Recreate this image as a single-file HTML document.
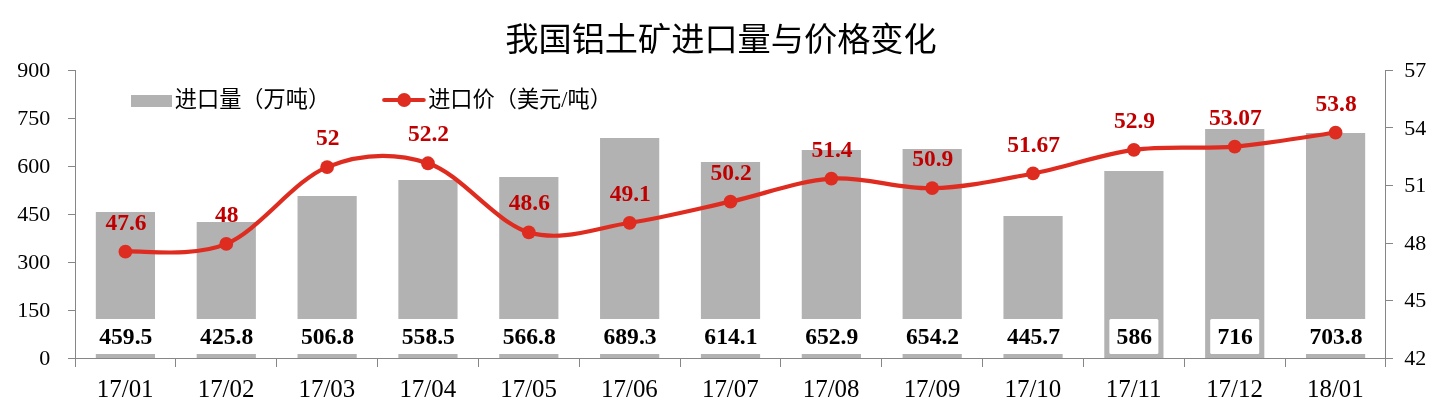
<!DOCTYPE html>
<html lang="zh"><head><meta charset="utf-8"><title>我国铝土矿进口量与价格变化</title>
<style>html,body{margin:0;padding:0;background:#fff}svg{display:block}</style></head>
<body>
<svg width="1443" height="400" viewBox="0 0 1443 400">
<rect width="1443" height="400" fill="#fff"/>
<text x="721" y="51" text-anchor="middle" style="font-family:'Liberation Sans','Noto Sans CJK SC',sans-serif;font-size:33.2px;fill:#000">我国铝土矿进口量与价格变化</text>
<rect x="95.82" y="212" width="59.2" height="147" fill="#b2b2b2"/>
<rect x="196.67" y="222" width="59.2" height="137" fill="#b2b2b2"/>
<rect x="297.52" y="196" width="59.2" height="163" fill="#b2b2b2"/>
<rect x="398.36" y="180" width="59.2" height="179" fill="#b2b2b2"/>
<rect x="499.21" y="177" width="59.2" height="182" fill="#b2b2b2"/>
<rect x="600.05" y="138" width="59.2" height="221" fill="#b2b2b2"/>
<rect x="700.90" y="162" width="59.2" height="197" fill="#b2b2b2"/>
<rect x="801.75" y="150" width="59.2" height="209" fill="#b2b2b2"/>
<rect x="902.59" y="149" width="59.2" height="210" fill="#b2b2b2"/>
<rect x="1003.44" y="216" width="59.2" height="143" fill="#b2b2b2"/>
<rect x="1104.28" y="171" width="59.2" height="188" fill="#b2b2b2"/>
<rect x="1205.13" y="129" width="59.2" height="230" fill="#b2b2b2"/>
<rect x="1305.98" y="133" width="59.2" height="226" fill="#b2b2b2"/>
<g stroke="#868686" stroke-width="1" fill="none">
<path d="M75.5 70V359M1385.5 70V359M75 358.5H1386"/>
<path d="M68 70.5H76M68 118.5H76M68 166.5H76M68 214.5H76M68 262.5H76M68 310.5H76M68 358.5H76M1385 70.5H1393M1385 127.5H1393M1385 185.5H1393M1385 243.5H1393M1385 300.5H1393M1385 358.5H1393M75.5 358V367M175.5 358V367M276.5 358V367M377.5 358V367M478.5 358V367M579.5 358V367M680.5 358V367M780.5 358V367M881.5 358V367M982.5 358V367M1083.5 358V367M1184.5 358V367M1285.5 358V367M1385.5 358V367"/>
</g>
<g style="font-family:'Liberation Serif',serif;font-size:22px;fill:#000" text-anchor="end">
<text x="50.3" y="76.90">900</text>
<text x="50.3" y="124.90">750</text>
<text x="50.3" y="172.90">600</text>
<text x="50.3" y="220.90">450</text>
<text x="50.3" y="268.90">300</text>
<text x="50.3" y="316.90">150</text>
<text x="50.3" y="364.90">0</text>
</g>
<g style="font-family:'Liberation Serif',serif;font-size:22px;fill:#000">
<text x="1404.3" y="76.90">57</text>
<text x="1404.3" y="134.50">54</text>
<text x="1404.3" y="192.10">51</text>
<text x="1404.3" y="249.70">48</text>
<text x="1404.3" y="307.30">45</text>
<text x="1404.3" y="364.90">42</text>
</g>
<g style="font-family:'Liberation Serif',serif;font-size:24.9px;fill:#000" text-anchor="middle">
<text x="125.22" y="396.7">17/01</text>
<text x="226.07" y="396.7">17/02</text>
<text x="326.92" y="396.7">17/03</text>
<text x="427.76" y="396.7">17/04</text>
<text x="528.61" y="396.7">17/05</text>
<text x="629.45" y="396.7">17/06</text>
<text x="730.30" y="396.7">17/07</text>
<text x="831.15" y="396.7">17/08</text>
<text x="931.99" y="396.7">17/09</text>
<text x="1032.84" y="396.7">17/10</text>
<text x="1133.68" y="396.7">17/11</text>
<text x="1234.53" y="396.7">17/12</text>
<text x="1335.38" y="396.7">18/01</text>
</g>
<g style="font-family:'Liberation Serif',serif;font-size:23.6px;font-weight:bold;fill:#000" text-anchor="middle">
<rect x="92.07" y="319" width="66.70" height="35" rx="1.5" fill="#fff"/>
<text x="125.82" y="344.3">459.5</text>
<rect x="192.92" y="319" width="66.70" height="35" rx="1.5" fill="#fff"/>
<text x="226.67" y="344.3">425.8</text>
<rect x="293.77" y="319" width="66.70" height="35" rx="1.5" fill="#fff"/>
<text x="327.52" y="344.3">506.8</text>
<rect x="394.61" y="319" width="66.70" height="35" rx="1.5" fill="#fff"/>
<text x="428.36" y="344.3">558.5</text>
<rect x="495.46" y="319" width="66.70" height="35" rx="1.5" fill="#fff"/>
<text x="529.21" y="344.3">566.8</text>
<rect x="596.30" y="319" width="66.70" height="35" rx="1.5" fill="#fff"/>
<text x="630.05" y="344.3">689.3</text>
<rect x="697.15" y="319" width="66.70" height="35" rx="1.5" fill="#fff"/>
<text x="730.90" y="344.3">614.1</text>
<rect x="798.00" y="319" width="66.70" height="35" rx="1.5" fill="#fff"/>
<text x="831.75" y="344.3">652.9</text>
<rect x="898.84" y="319" width="66.70" height="35" rx="1.5" fill="#fff"/>
<text x="932.59" y="344.3">654.2</text>
<rect x="999.69" y="319" width="66.70" height="35" rx="1.5" fill="#fff"/>
<text x="1033.44" y="344.3">445.7</text>
<rect x="1109.38" y="319" width="49.00" height="35" rx="1.5" fill="#fff"/>
<text x="1134.28" y="344.3">586</text>
<rect x="1210.23" y="319" width="49.00" height="35" rx="1.5" fill="#fff"/>
<text x="1235.13" y="344.3">716</text>
<rect x="1302.23" y="319" width="66.70" height="35" rx="1.5" fill="#fff"/>
<text x="1335.98" y="344.3">703.8</text>
</g>
<path d="M125.42 251.58C142.23 250.30 192.65 257.98 226.27 243.90C259.88 229.82 293.50 180.54 327.12 167.10C360.73 153.66 394.35 152.38 427.96 163.26C461.58 174.14 495.19 222.46 528.81 232.38C562.42 242.30 596.04 227.90 629.65 222.78C663.27 217.66 696.88 209.02 730.50 201.66C764.12 194.30 797.73 180.86 831.35 178.62C864.96 176.38 898.58 189.08 932.19 188.22C965.81 187.36 999.42 179.84 1033.04 173.44C1066.65 167.04 1100.27 154.30 1133.88 149.82C1167.50 145.34 1201.12 149.44 1234.73 146.56C1268.35 143.68 1318.77 134.88 1335.58 132.54" fill="none" stroke="#de2d20" stroke-width="4.2" stroke-linecap="round" stroke-linejoin="round"/>
<circle cx="125.42" cy="251.58" r="6.9" fill="#de2d20"/>
<circle cx="226.27" cy="243.90" r="6.9" fill="#de2d20"/>
<circle cx="327.12" cy="167.10" r="6.9" fill="#de2d20"/>
<circle cx="427.96" cy="163.26" r="6.9" fill="#de2d20"/>
<circle cx="528.81" cy="232.38" r="6.9" fill="#de2d20"/>
<circle cx="629.65" cy="222.78" r="6.9" fill="#de2d20"/>
<circle cx="730.50" cy="201.66" r="6.9" fill="#de2d20"/>
<circle cx="831.35" cy="178.62" r="6.9" fill="#de2d20"/>
<circle cx="932.19" cy="188.22" r="6.9" fill="#de2d20"/>
<circle cx="1033.04" cy="173.44" r="6.9" fill="#de2d20"/>
<circle cx="1133.88" cy="149.82" r="6.9" fill="#de2d20"/>
<circle cx="1234.73" cy="146.56" r="6.9" fill="#de2d20"/>
<circle cx="1335.58" cy="132.54" r="6.9" fill="#de2d20"/>
<g style="font-family:'Liberation Serif',serif;font-size:23.5px;font-weight:bold;fill:#c00000" text-anchor="middle">
<text x="126.02" y="229.68">47.6</text>
<text x="226.87" y="222.00">48</text>
<text x="327.72" y="145.20">52</text>
<text x="428.56" y="141.36">52.2</text>
<text x="529.41" y="210.48">48.6</text>
<text x="630.25" y="200.88">49.1</text>
<text x="731.10" y="179.76">50.2</text>
<text x="831.95" y="156.72">51.4</text>
<text x="932.79" y="166.32">50.9</text>
<text x="1033.64" y="151.54">51.67</text>
<text x="1134.48" y="127.92">52.9</text>
<text x="1235.33" y="124.66">53.07</text>
<text x="1336.18" y="110.64">53.8</text>
</g>
<rect x="131" y="95" width="41" height="12" fill="#b2b2b2"/>
<text x="174.8" y="106.8" style="font-family:'Liberation Serif','Noto Sans CJK SC',sans-serif;font-size:22.2px;fill:#000">进口量（万吨）</text>
<path d="M384.2 100H423.7" stroke="#de2d20" stroke-width="4.2" stroke-linecap="round"/>
<circle cx="404.2" cy="100" r="6.9" fill="#de2d20"/>
<text x="428.2" y="106.8" style="font-family:'Liberation Serif','Noto Sans CJK SC',sans-serif;font-size:22.2px;fill:#000">进口价（美元/吨）</text>
</svg>
</body></html>
